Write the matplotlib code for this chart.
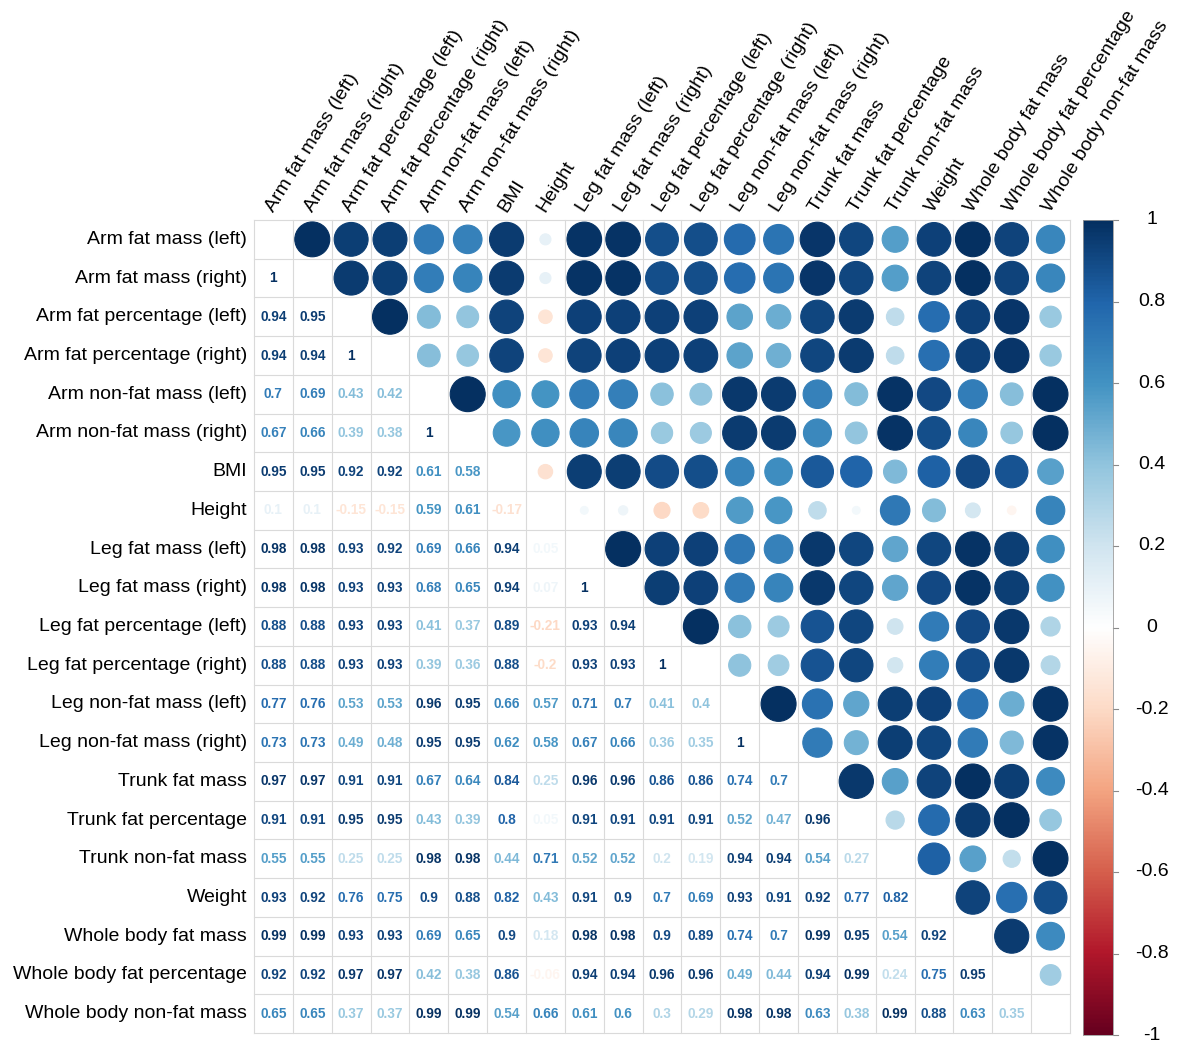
import numpy as np
import matplotlib
matplotlib.use("Agg")
import matplotlib.pyplot as plt
from matplotlib.colors import LinearSegmentedColormap, Normalize
from matplotlib.patches import Circle

variables = [
    "Arm fat mass (left)", "Arm fat mass (right)",
    "Arm fat percentage (left)", "Arm fat percentage (right)",
    "Arm non-fat mass (left)", "Arm non-fat mass (right)",
    "BMI", "Height",
    "Leg fat mass (left)", "Leg fat mass (right)",
    "Leg fat percentage (left)", "Leg fat percentage (right)",
    "Leg non-fat mass (left)", "Leg non-fat mass (right)",
    "Trunk fat mass", "Trunk fat percentage", "Trunk non-fat mass",
    "Weight", "Whole body fat mass", "Whole body fat percentage",
    "Whole body non-fat mass",
]

# Lower-triangle correlations, one list per row (row k holds columns 0..k-1)
r_arm_fat_mass_right = [1]
r_arm_fat_pct_left = [0.94, 0.95]
r_arm_fat_pct_right = [0.94, 0.94, 1]
r_arm_nonfat_left = [0.7, 0.69, 0.43, 0.42]
r_arm_nonfat_right = [0.67, 0.66, 0.39, 0.38, 1]
r_bmi = [0.95, 0.95, 0.92, 0.92, 0.61, 0.58]
r_height = [0.1, 0.1, -0.15, -0.15, 0.59, 0.61, -0.17]
r_leg_fat_mass_left = [0.98, 0.98, 0.93, 0.92, 0.69, 0.66, 0.94, 0.05]
r_leg_fat_mass_right = [0.98, 0.98, 0.93, 0.93, 0.68, 0.65, 0.94, 0.07, 1]
r_leg_fat_pct_left = [0.88, 0.88, 0.93, 0.93, 0.41, 0.37, 0.89, -0.21, 0.93, 0.94]
r_leg_fat_pct_right = [0.88, 0.88, 0.93, 0.93, 0.39, 0.36, 0.88, -0.2, 0.93, 0.93, 1]
r_leg_nonfat_left = [0.77, 0.76, 0.53, 0.53, 0.96, 0.95, 0.66, 0.57, 0.71, 0.7, 0.41, 0.4]
r_leg_nonfat_right = [0.73, 0.73, 0.49, 0.48, 0.95, 0.95, 0.62, 0.58, 0.67, 0.66, 0.36, 0.35, 1]
r_trunk_fat_mass = [0.97, 0.97, 0.91, 0.91, 0.67, 0.64, 0.84, 0.25, 0.96, 0.96, 0.86, 0.86,
                    0.74, 0.7]
r_trunk_fat_pct = [0.91, 0.91, 0.95, 0.95, 0.43, 0.39, 0.8, 0.05, 0.91, 0.91, 0.91, 0.91,
                   0.52, 0.47, 0.96]
r_trunk_nonfat = [0.55, 0.55, 0.25, 0.25, 0.98, 0.98, 0.44, 0.71, 0.52, 0.52, 0.2, 0.19,
                  0.94, 0.94, 0.54, 0.27]
r_weight = [0.93, 0.92, 0.76, 0.75, 0.9, 0.88, 0.82, 0.43, 0.91, 0.9, 0.7, 0.69,
            0.93, 0.91, 0.92, 0.77, 0.82]
r_wb_fat_mass = [0.99, 0.99, 0.93, 0.93, 0.69, 0.65, 0.9, 0.18, 0.98, 0.98, 0.9, 0.89,
                 0.74, 0.7, 0.99, 0.95, 0.54, 0.92]
r_wb_fat_pct = [0.92, 0.92, 0.97, 0.97, 0.42, 0.38, 0.86, -0.06, 0.94, 0.94, 0.96, 0.96,
                0.49, 0.44, 0.94, 0.99, 0.24, 0.75, 0.95]
r_wb_nonfat = [0.65, 0.65, 0.37, 0.37, 0.99, 0.99, 0.54, 0.66, 0.61, 0.6, 0.3, 0.29,
               0.98, 0.98, 0.63, 0.38, 0.99, 0.88, 0.63, 0.35]

lower_rows = [
    r_arm_fat_mass_right, r_arm_fat_pct_left, r_arm_fat_pct_right,
    r_arm_nonfat_left, r_arm_nonfat_right, r_bmi, r_height,
    r_leg_fat_mass_left, r_leg_fat_mass_right, r_leg_fat_pct_left,
    r_leg_fat_pct_right, r_leg_nonfat_left, r_leg_nonfat_right,
    r_trunk_fat_mass, r_trunk_fat_pct, r_trunk_nonfat, r_weight,
    r_wb_fat_mass, r_wb_fat_pct, r_wb_nonfat,
]

colorbar_ticks = [1, 0.8, 0.6, 0.4, 0.2, 0, -0.2, -0.4, -0.6, -0.8, -1]

n = len(variables)
corr = np.eye(n)
for i, row in enumerate(lower_rows, start=1):
    for j, v in enumerate(row):
        corr[i, j] = v
        corr[j, i] = v

palette = ["#67001F", "#B2182B", "#D6604D", "#F4A582", "#FDDBC7", "#FFFFFF",
           "#D1E5F0", "#92C5DE", "#4393C3", "#2166AC", "#053061"]
cmap = LinearSegmentedColormap.from_list("RdBu200", palette, N=200)
norm = Normalize(-1, 1)


def fmt(v):
    s = "%.2f" % v
    s = s.rstrip("0").rstrip(".")
    return s


plt.rcParams["font.family"] = ["Liberation Sans", "DejaVu Sans"]
W, H = 1179, 1046
fig = plt.figure(figsize=(W / 100, H / 100), dpi=100)
fig.patch.set_facecolor("white")

x0, x1, y0, y1 = 254, 1070, 220, 1033
ax = fig.add_axes([x0 / W, 1 - y1 / H, (x1 - x0) / W, (y1 - y0) / H])
ax.set_xlim(0, n)
ax.set_ylim(n, 0)
ax.axis("off")

grid_col = "#dadada"
for k in range(n + 1):
    ax.plot([0, n], [k, k], color=grid_col, lw=0.8, clip_on=False, zorder=1)
    ax.plot([k, k], [0, n], color=grid_col, lw=0.8, clip_on=False, zorder=1)

for i in range(n):
    for j in range(n):
        if i == j:
            continue
        v = corr[i, j]
        c = cmap(norm(v))
        if j > i:
            rad = 0.45 * np.sqrt(abs(v))
            ax.add_patch(Circle((j + 0.5, i + 0.5), rad, facecolor=c,
                                edgecolor=c, lw=0.8, zorder=2))
        else:
            ax.text(j + 0.5, i + 0.5, fmt(v), ha="center", va="center",
                    fontsize=9.8, fontweight="bold", color=c, zorder=3)

for i, name in enumerate(variables):
    ax.text(-0.18, i + 0.5, name, ha="right", va="center", fontsize=14,
            color="black")
    ax.text(i + 0.4, -0.25, name, ha="left", va="center", fontsize=14,
            rotation=58, rotation_mode="anchor", color="black")

# colour legend
cb_x0, cb_x1, cb_y0, cb_y1 = 1083, 1113, 220, 1035
cax = fig.add_axes([cb_x0 / W, 1 - cb_y1 / H, (cb_x1 - cb_x0) / W,
                    (cb_y1 - cb_y0) / H])
grad = np.linspace(-1, 1, 400).reshape(-1, 1)
cax.imshow(grad, cmap=cmap, norm=norm, aspect="auto", origin="lower",
           extent=[0, 1, -1, 1])
cax.set_xlim(0, 1)
cax.set_ylim(-1, 1)
cax.set_xticks([])
cax.set_yticks([])
for sp in cax.spines.values():
    sp.set_color("#9a9a9a")
    sp.set_linewidth(0.6)
for t in colorbar_ticks:
    cax.plot([1, 1.18], [t, t], color="#8a8a8a", lw=0.8, clip_on=False)
    cax.text(2.3, t, fmt(t), ha="center", va="center", fontsize=14,
             color="black")

fig.savefig("out.png", dpi=100, facecolor="white")
